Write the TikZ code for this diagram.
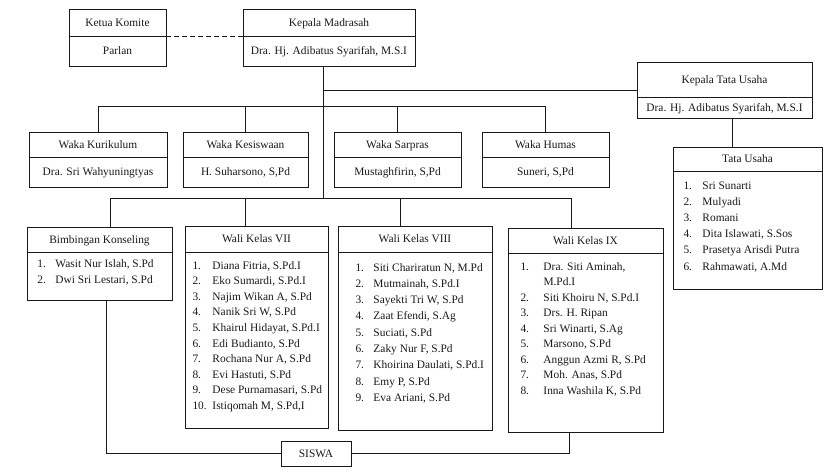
\documentclass[tikz,border=0pt]{standalone}
\usepackage{fontspec}
\setmainfont{Liberation Serif}

\begin{document}
\begin{tikzpicture}[x=1pt,y=-1pt,line width=1pt,color=black!90,
  kotak/.style={draw,anchor=north west,inner sep=0pt,outer sep=0pt},
  teks/.style={font=\fontsize{11.4}{15.6}\selectfont,inner sep=0pt,text height=7.5pt,text depth=0pt},
  item/.style={teks,anchor=base west}]
\useasboundingbox (0,0) rectangle (825,472);

% kotak jabatan: judul di atas, nama di bawah
\foreach \nm/\x/\y/\w/\h/\d/\judul/\isi in {
  komite/69/9/97/57/27/{Ketua Komite}/{Parlan},
  kepala/243/9/172/57/27/{Kepala Madrasah}/{Dra. Hj. Adibatus Syarifah, M.S.I},
  ktu/637/62/175/56/35/{Kepala Tata Usaha}/{Dra. Hj. Adibatus Syarifah, M.S.I},
  kur/29/132/138/55/25/{Waka Kurikulum}/{Dra. Sri Wahyuningtyas},
  kes/183/132/125/55/25/{Waka Kesiswaan}/{H. Suharsono, S,Pd},
  sar/334/132/127/55/25/{Waka Sarpras}/{Mustaghfirin, S,Pd},
  hum/482/132/127/55/25/{Waka Humas}/{Suneri, S,Pd}}
{
  \node[kotak,minimum width=\w,minimum height=\h] (\nm) at (\x,\y) {};
  \draw (\nm.north west) ++(0,\d) -- ++(\w,0);
  \node[teks] (\nm-j) at ([yshift=-\d/2]\nm.north) {\judul};
  \node[teks] (\nm-n) at ([yshift=-\d/2-\h/2]\nm.north) {\isi};
}

% kotak daftar
\foreach \nm/\x/\y/\w/\h/\d/\judul in {
  tu/673/147/149/142/24/{Tata Usaha},
  bk/27/227/145/73/25/{Bimbingan Konseling},
  vii/185/226/143/202/26/{Wali Kelas VII},
  viii/338/226/154/204/26/{Wali Kelas VIII},
  ix/508/228/155/204/25/{Wali Kelas IX}}
{
  \node[kotak,minimum width=\w,minimum height=\h] (\nm) at (\x,\y) {};
  \draw (\nm.north west) ++(0,\d) -- ++(\w,0);
  \node[teks] (\nm-j) at ([yshift=-\d/2]\nm.north) {\judul};
}

\foreach \t [count=\i] in {Sri Sunarti, Mulyadi, Romani, {Dita Islawati, S.Sos},
    Prasetya Arisdi Putra, {Rahmawati, A.Md}}
  \node[item] (tu-\i) at (683,{189+(\i-1)*16.2}) {\makebox[19pt][l]{\i.}\t};

\foreach \t [count=\i] in {{Wasit Nur Islah, S.Pd}, {Dwi Sri Lestari, S.Pd}}
  \node[item] (bk-\i) at (37,{267+(\i-1)*16}) {\makebox[18pt][l]{\i.}\t};

\foreach \t [count=\i] in {{Diana Fitria, S.Pd.I}, {Eko Sumardi, S.Pd.I}, {Najim Wikan A, S.Pd},
    {Nanik Sri W, S.Pd}, {Khairul Hidayat, S.Pd.I}, {Edi Budianto, S.Pd}, {Rochana Nur A, S.Pd},
    {Evi Hastuti, S.Pd}, {Dese Purnamasari, S.Pd}, {Istiqomah M, S.Pd,I}}
  \node[item] (vii-\i) at (192,{269+(\i-1)*15.6}) {\makebox[20pt][l]{\i.}\t};

\foreach \t [count=\i] in {{Siti Chariratun N, M.Pd}, {Mutmainah, S.Pd.I}, {Sayekti Tri W, S.Pd},
    {Zaat Efendi, S.Ag}, {Suciati, S.Pd}, {Zaky Nur F, S.Pd}, {Khoirina Daulati, S.Pd.I},
    {Emy P, S.Pd}, {Eva Ariani, S.Pd}}
  \node[item] (viii-\i) at (355,{271+(\i-1)*16.3}) {\makebox[18pt][l]{\i.}\t};

\foreach \n/\t [count=\i] in {1./{Dra. Siti Aminah,}, /{M.Pd.I}, 2./{Siti Khoiru N, S.Pd.I},
    3./{Drs. H. Ripan}, 4./{Sri Winarti, S.Ag}, 5./{Marsono, S.Pd}, 6./{Anggun Azmi R, S.Pd},
    7./{Moh. Anas, S.Pd}, 8./{Inna Washila K, S.Pd}}
  \node[item] (ix-\i) at (520,{270+(\i-1)*15.5}) {\makebox[23pt][l]{\n}\t};

\node[teks,draw,minimum width=70,minimum height=25] (siswa) at (316,453.5) {SISWA};

% garis
\draw[dash pattern=on 5pt off 3pt] ([yshift=-27pt]komite.north east) -- ([yshift=-27pt]kepala.north west);
\coordinate (spine) at (323,198);
\coordinate (simpang) at (323,90);
\coordinate (bar1) at (323,106);
\draw (kepala.south -| spine) -- (spine);
\draw (simpang) -- (simpang -| ktu.west);
\draw (kur.north |- bar1) -- (hum.north |- bar1);
\foreach \nm in {kur,kes,sar,hum}
  \draw (\nm.north |- bar1) -- (\nm.north);
\coordinate (k1) at (110,198);
\coordinate (k2) at (571,198);
\draw (k1) -- (k2);
\foreach \nm/\x in {bk/110,vii/245,viii/400,ix/571}
  \draw (\x,198) -- (\nm.north -| \x,0);
\draw (ktu.south -| 732,0) -- (tu.north -| 732,0);
\draw (bk.south -| 106,0) |- (siswa.west);
\draw (siswa.east) -| (ix.south -| 569,0);

\end{tikzpicture}
\end{document}
